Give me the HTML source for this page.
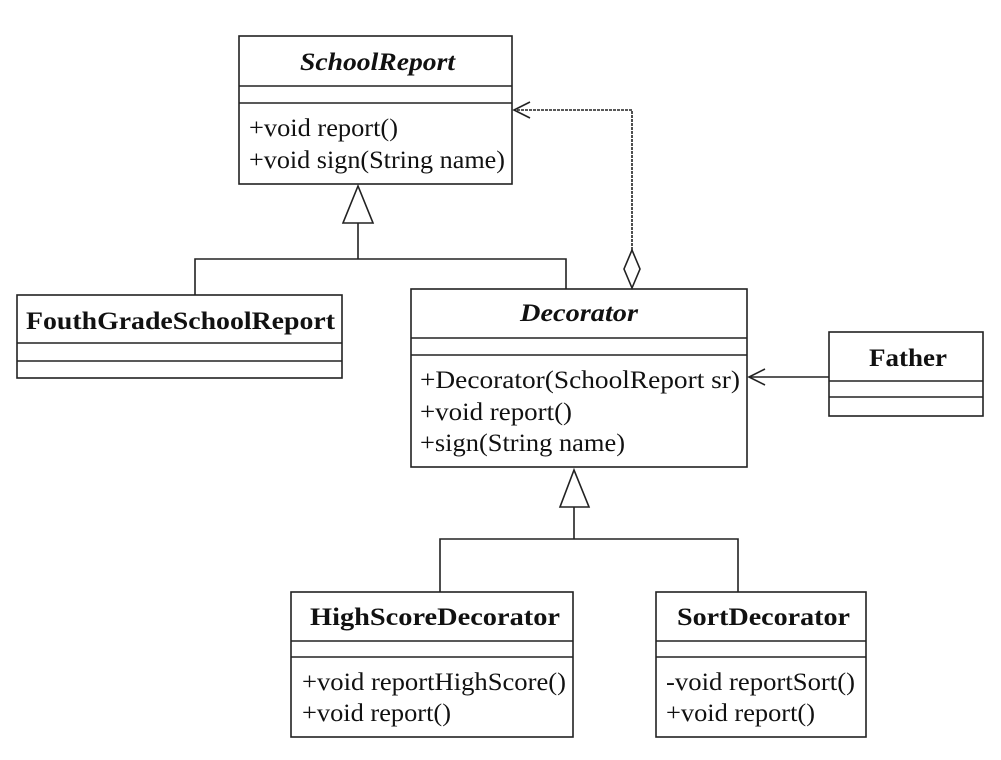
<!DOCTYPE html>
<html><head><meta charset="utf-8"><style>
html,body{margin:0;padding:0;background:#fff;}
svg{display:block;}
text{font-family:"Liberation Serif",serif;fill:#111;}
.t{font-weight:bold;font-size:25px;}
.i{font-style:italic;}
.m{font-size:25px;}
</style></head><body>
<svg width="1001" height="760" viewBox="0 0 1001 760" xmlns="http://www.w3.org/2000/svg">
<g fill="none" stroke="#222" stroke-width="1.6">
<rect x="239" y="36" width="273" height="148"/>
<line x1="239" y1="86" x2="512" y2="86"/><line x1="239" y1="103" x2="512" y2="103"/>
<rect x="17" y="295" width="325" height="83"/>
<line x1="17" y1="343" x2="342" y2="343"/><line x1="17" y1="361" x2="342" y2="361"/>
<rect x="411" y="289" width="336" height="178"/>
<line x1="411" y1="338" x2="747" y2="338"/><line x1="411" y1="355" x2="747" y2="355"/>
<rect x="829" y="332" width="154" height="84"/>
<line x1="829" y1="381" x2="983" y2="381"/><line x1="829" y1="397" x2="983" y2="397"/>
<rect x="291" y="592" width="282" height="145"/>
<line x1="291" y1="641" x2="573" y2="641"/><line x1="291" y1="657" x2="573" y2="657"/>
<rect x="656" y="592" width="210" height="145"/>
<line x1="656" y1="641" x2="866" y2="641"/><line x1="656" y1="657" x2="866" y2="657"/>
<polygon points="358,186 343,223 373,223"/>
<polyline points="358,223 358,259"/>
<polyline points="195,295 195,259 566,259 566,289"/>
<polygon points="574,470 560,507 589,507"/>
<polyline points="574,507 574,539"/>
<polyline points="440,592 440,539 738,539 738,592"/>
<polyline points="632,250 632,110 514,110" stroke-dasharray="3,1"/>
<polyline points="530,102 514,110 530,118"/>
<polygon points="632,250 640,269 632,288 624,269" fill="#fff"/>
<line x1="829" y1="377" x2="749" y2="377"/>
<polyline points="765,369 749,377 765,385"/>
</g>
<text class="t i" x="300" y="70" textLength="155" lengthAdjust="spacingAndGlyphs">SchoolReport</text>
<text class="m" x="249" y="136" textLength="149" lengthAdjust="spacingAndGlyphs">+void report()</text>
<text class="m" x="249" y="168" textLength="256" lengthAdjust="spacingAndGlyphs">+void sign(String name)</text>
<text class="t" x="26" y="329" textLength="309" lengthAdjust="spacingAndGlyphs">FouthGradeSchoolReport</text>
<text class="t i" x="520" y="321" textLength="118" lengthAdjust="spacingAndGlyphs">Decorator</text>
<text class="m" x="420" y="388" textLength="320" lengthAdjust="spacingAndGlyphs">+Decorator(SchoolReport sr)</text>
<text class="m" x="420" y="420" textLength="152" lengthAdjust="spacingAndGlyphs">+void report()</text>
<text class="m" x="420" y="451" textLength="205" lengthAdjust="spacingAndGlyphs">+sign(String name)</text>
<text class="t" x="869" y="366" textLength="78" lengthAdjust="spacingAndGlyphs">Father</text>
<text class="t" x="310" y="625" textLength="250" lengthAdjust="spacingAndGlyphs">HighScoreDecorator</text>
<text class="m" x="302" y="690" textLength="264" lengthAdjust="spacingAndGlyphs">+void reportHighScore()</text>
<text class="m" x="302" y="721" textLength="149" lengthAdjust="spacingAndGlyphs">+void report()</text>
<text class="t" x="677" y="625" textLength="173" lengthAdjust="spacingAndGlyphs">SortDecorator</text>
<text class="m" x="666" y="690" textLength="189" lengthAdjust="spacingAndGlyphs">-void reportSort()</text>
<text class="m" x="666" y="721" textLength="149" lengthAdjust="spacingAndGlyphs">+void report()</text>
</svg>
</body></html>
